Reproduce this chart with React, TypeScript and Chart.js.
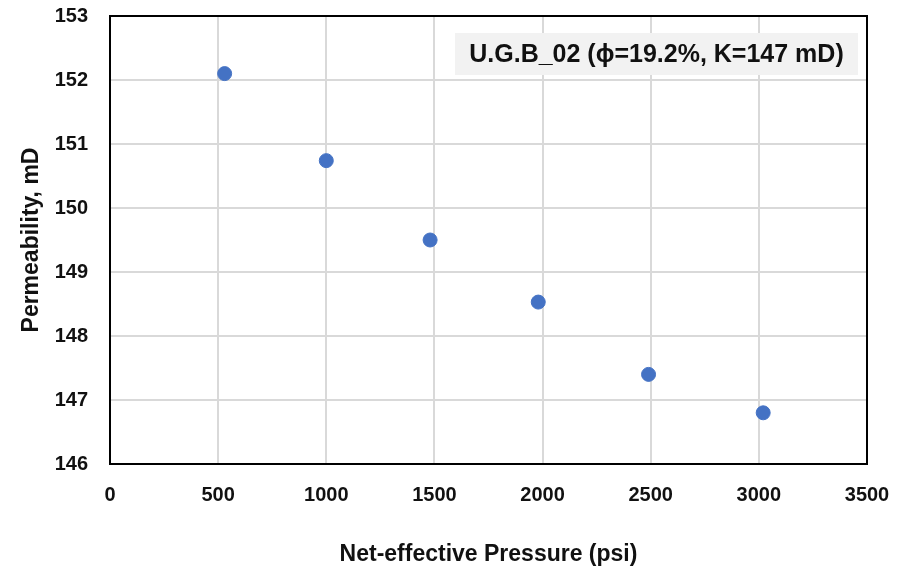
import React, { useEffect, useRef } from "react";
import { Chart, registerables } from "chart.js";
Chart.register(...registerables);

const pressure = [530, 1000, 1480, 1980, 2490, 3020];
const permeability = [152.1, 150.74, 149.5, 148.53, 147.4, 146.8];
const sampleLabel = "U.G.B_02 (\u03d5=19.2%, K=147 mD)";
const xTitle = "Net-effective Pressure (psi)";
const yTitle = "Permeability, mD";

const FONT = "'Liberation Sans', Arial, sans-serif";

const framePlugin = {
  id: "frame",
  afterDraw(chart: any) {
    const { ctx, chartArea } = chart;
    const { left, top, right, bottom } = chartArea;
    ctx.save();
    ctx.strokeStyle = "#000";
    ctx.lineWidth = 2;
    ctx.strokeRect(left, top, right - left, bottom - top);
    // annotation box
    const bx = 455, by = 33, bw = 403, bh = 42;
    ctx.fillStyle = "#f2f2f2";
    ctx.fillRect(bx, by, bw, bh);
    ctx.fillStyle = "#111";
    ctx.font = `bold 25px ${FONT}`;
    ctx.textAlign = "center";
    ctx.textBaseline = "middle";
    ctx.fillText(sampleLabel, bx + bw / 2, by + bh / 2 + 1);
    ctx.restore();
  },
};

export default function App() {
  const ref = useRef<HTMLCanvasElement>(null);
  useEffect(() => {
    document.body.style.margin = "0";
    const chart = new Chart(ref.current!, {
      type: "scatter",
      data: {
        datasets: [
          {
            data: pressure.map((x, i) => ({ x, y: permeability[i] })),
            backgroundColor: "#4472c4",
            borderColor: "#4472c4",
            pointRadius: 7,
            pointHoverRadius: 7,
          },
        ],
      },
      options: {
        animation: false,
        responsive: false,
        layout: { padding: { top: 16, right: 41, left: 0, bottom: 0 } },
        plugins: { legend: { display: false }, tooltip: { enabled: false } },
        scales: {
          x: {
            type: "linear",
            min: 0,
            max: 3500,
            ticks: {
              stepSize: 500,
              color: "#111",
              font: { family: FONT, size: 20, weight: "bold" },
              padding: 19,
              maxRotation: 0,
              callback: (v: any) => String(v),
            },
            grid: { color: "#d9d9d9", lineWidth: 2, drawTicks: false },
            border: { display: false },
            title: {
              display: true,
              text: xTitle,
              color: "#111",
              font: { family: FONT, size: 23, weight: "bold" },
              padding: { top: 0, bottom: 6 },
            },
            afterFit(scale: any) {
              scale.height = 110;
              scale.paddingLeft = 0;
              scale.paddingRight = 0;
            },
          },
          y: {
            type: "linear",
            min: 146,
            max: 153,
            ticks: {
              stepSize: 1,
              color: "#111",
              font: { family: FONT, size: 20, weight: "bold" },
              padding: 22,
              callback: (v: any) => String(v),
            },
            grid: { color: "#d9d9d9", lineWidth: 2, drawTicks: false },
            border: { display: false },
            title: {
              display: true,
              text: yTitle,
              color: "#111",
              font: { family: FONT, size: 23, weight: "bold" },
              padding: { top: 18, bottom: 0 },
            },
            afterFit(scale: any) {
              scale.width = 110;
              scale.paddingTop = 0;
              scale.paddingBottom = 0;
            },
          },
        },
      },
      plugins: [framePlugin],
    } as any);
    return () => chart.destroy();
  }, []);
  return (
    <div style={{ position: "absolute", left: 0, top: 0, width: 908, height: 574, background: "#fff" }}>
      <canvas ref={ref} width={908} height={574} />
    </div>
  );
}
